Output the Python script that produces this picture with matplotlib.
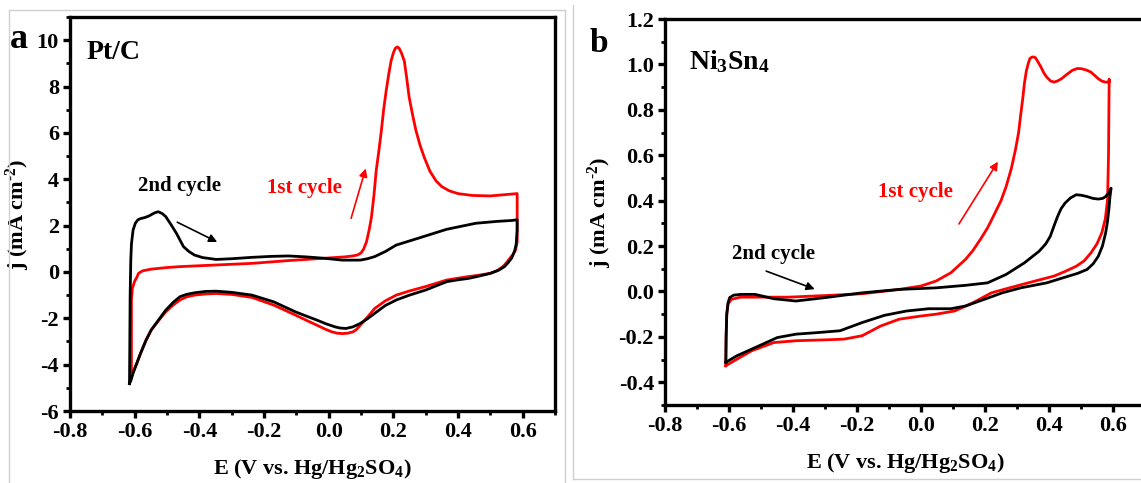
"CV curves, Pt/C vs Ni3Sn4"

import matplotlib
matplotlib.use("Agg")
import matplotlib.pyplot as plt
from matplotlib.lines import Line2D
from matplotlib.ticker import MultipleLocator

plt.rcParams['font.family'] = ['Liberation Serif', 'DejaVu Serif']
plt.rcParams['font.weight'] = 'bold'
plt.rcParams['axes.unicode_minus'] = False
plt.rcParams['mathtext.fontset'] = 'custom'
plt.rcParams['mathtext.rm'] = 'Liberation Serif:bold'
plt.rcParams['mathtext.it'] = 'Liberation Serif:bold'
plt.rcParams['mathtext.bf'] = 'Liberation Serif:bold'
plt.rcParams['mathtext.default'] = 'rm'

# ---- panel a : Pt/C (E in V, j in mA cm-2) ----
a_red_E = [-0.61, -0.61, -0.607, -0.6, -0.594, -0.588, -0.575, -0.549, -0.5, -0.46, -0.348,
           -0.237, -0.125, -0.014, 0.05, 0.074, 0.089, 0.1, 0.108, 0.117, 0.125, 0.132,
           0.14, 0.147, 0.155, 0.163, 0.17, 0.178, 0.186, 0.193, 0.2, 0.206, 0.212,
           0.218, 0.225, 0.234, 0.241, 0.249, 0.26, 0.27, 0.283, 0.296, 0.313, 0.332,
           0.35, 0.373, 0.4, 0.444, 0.5, 0.583, 0.583, 0.578, 0.57, 0.561, 0.55,
           0.539, 0.52, 0.5, 0.465, 0.432, 0.4, 0.365, 0.3, 0.25, 0.209, 0.175,
           0.142, 0.12, 0.098, 0.087, 0.076, 0.06, 0.042, 0.025, 0.009, -0.012, -0.036,
           -0.07, -0.103, -0.17, -0.237, -0.3, -0.348, -0.38, -0.415, -0.44, -0.46, -0.48,
           -0.504, -0.525, -0.549, -0.565, -0.582, -0.595, -0.605, -0.61]
a_red_j = [-4.5, -1.2, -0.7, -0.4, -0.25, -0.06, 0.05, 0.12, 0.19, 0.23, 0.3,
           0.37, 0.49, 0.59, 0.65, 0.69, 0.73, 0.82, 0.98, 1.3, 1.8, 2.33,
           3.3, 4.37, 5.2, 6.1, 7.0, 7.83, 8.55, 9.1, 9.45, 9.65, 9.71,
           9.65, 9.45, 9.1, 8.4, 7.53, 6.75, 6.1, 5.45, 4.93, 4.35, 3.93,
           3.68, 3.5, 3.38, 3.3, 3.28, 3.38, 1.3, 0.95, 0.75, 0.6, 0.4,
           0.23, 0.05, -0.06, -0.14, -0.2, -0.27, -0.35, -0.63, -0.82, -1.0, -1.25,
           -1.58, -1.95, -2.29, -2.47, -2.58, -2.64, -2.66, -2.64, -2.58, -2.46, -2.3,
           -2.08, -1.86, -1.43, -1.1, -0.97, -0.93, -0.95, -1.0, -1.08, -1.21, -1.42,
           -1.72, -2.08, -2.51, -2.95, -3.52, -4.0, -4.3, -4.5]

a_blk_E = [-0.616, -0.615, -0.614, -0.612, -0.61, -0.605, -0.598, -0.59, -0.582, -0.568, -0.555,
           -0.545, -0.538, -0.527, -0.515, -0.504, -0.488, -0.471, -0.46, -0.449, -0.432, -0.415,
           -0.39, -0.348, -0.3, -0.237, -0.18, -0.125, -0.07, -0.014, 0.042, 0.098, 0.12,
           0.142, 0.175, 0.209, 0.276, 0.365, 0.455, 0.52, 0.566, 0.583, 0.583, 0.58,
           0.575, 0.566, 0.555, 0.544, 0.525, 0.5, 0.465, 0.432, 0.4, 0.365, 0.3,
           0.25, 0.209, 0.175, 0.142, 0.12, 0.098, 0.075, 0.053, 0.035, 0.02, -0.008,
           -0.036, -0.07, -0.103, -0.17, -0.237, -0.3, -0.348, -0.38, -0.415, -0.44, -0.46,
           -0.48, -0.504, -0.525, -0.549, -0.565, -0.582, -0.595, -0.605, -0.612, -0.616]
a_blk_j = [-4.82, -3.0, -1.0, 0.5, 1.2, 1.8, 2.1, 2.25, 2.3, 2.35, 2.42,
           2.5, 2.55, 2.6, 2.52, 2.39, 2.05, 1.67, 1.38, 1.09, 0.88, 0.73,
           0.62, 0.54, 0.57, 0.63, 0.67, 0.69, 0.65, 0.59, 0.51, 0.51, 0.57,
           0.66, 0.88, 1.16, 1.45, 1.84, 2.1, 2.18, 2.22, 2.25, 1.8, 1.2,
           0.9, 0.6, 0.4, 0.23, 0.07, -0.06, -0.18, -0.28, -0.34, -0.42, -0.78,
           -1.0, -1.21, -1.45, -1.79, -2.02, -2.22, -2.37, -2.44, -2.42, -2.37, -2.24,
           -2.08, -1.9, -1.72, -1.29, -1.0, -0.88, -0.83, -0.84, -0.9, -0.97, -1.07,
           -1.3, -1.65, -2.05, -2.51, -2.95, -3.52, -4.0, -4.38, -4.7, -4.82]

# ---- panel b : Ni3Sn4 ----
b_red_E = [-0.61, -0.609, -0.607, -0.603, -0.593, -0.564, -0.506, -0.414, -0.299, -0.184, -0.068,
           0.0, 0.047, 0.093, 0.139, 0.162, 0.185, 0.208, 0.231, 0.25, 0.266, 0.282,
           0.295, 0.305, 0.312, 0.318, 0.323, 0.329, 0.335, 0.34, 0.346, 0.352, 0.358,
           0.366, 0.375, 0.384, 0.393, 0.405, 0.416, 0.428, 0.439, 0.455, 0.473, 0.488,
           0.502, 0.517, 0.531, 0.544, 0.554, 0.566, 0.577, 0.588, 0.588, 0.586, 0.583,
           0.576, 0.565, 0.55, 0.531, 0.51, 0.485, 0.45, 0.416, 0.335, 0.277, 0.22,
           0.162, 0.105, 0.047, 0.0, -0.068, -0.126, -0.184, -0.241, -0.299, -0.391, -0.46,
           -0.529, -0.575, -0.61]
b_red_j = [-0.327, -0.2, -0.1, -0.055, -0.035, -0.025, -0.025, -0.025, -0.018, -0.01, 0.009,
           0.024, 0.046, 0.082, 0.141, 0.18, 0.228, 0.28, 0.345, 0.4, 0.462, 0.54,
           0.623, 0.7, 0.784, 0.85, 0.915, 0.97, 1.003, 1.025, 1.032, 1.033, 1.029,
           1.01, 0.988, 0.962, 0.944, 0.927, 0.922, 0.928, 0.937, 0.955, 0.974, 0.982,
           0.981, 0.975, 0.966, 0.95, 0.937, 0.926, 0.922, 0.922, 0.935, 0.6, 0.404,
           0.32, 0.258, 0.21, 0.17, 0.135, 0.111, 0.088, 0.068, 0.038, 0.016, -0.006,
           -0.05, -0.086, -0.1, -0.108, -0.122, -0.152, -0.195, -0.21, -0.213, -0.217, -0.225,
           -0.261, -0.298, -0.327]

b_blk_E = [-0.61, -0.609, -0.607, -0.603, -0.598, -0.585, -0.564, -0.518, -0.46, -0.391, -0.299,
           -0.184, -0.068, 0.047, 0.139, 0.208, 0.266, 0.323, 0.369, 0.39, 0.404, 0.416,
           0.427, 0.438, 0.45, 0.467, 0.485, 0.5, 0.519, 0.537, 0.554, 0.568, 0.577,
           0.587, 0.594, 0.59, 0.588, 0.583, 0.577, 0.567, 0.554, 0.538, 0.519, 0.49,
           0.462, 0.393, 0.312, 0.254, 0.197, 0.139, 0.093, 0.024, -0.045, -0.114, -0.184,
           -0.253, -0.322, -0.391, -0.449, -0.518, -0.575, -0.61]
b_blk_j = [-0.312, -0.2, -0.1, -0.05, -0.027, -0.016, -0.013, -0.013, -0.032, -0.042, -0.027,
           -0.006, 0.009, 0.016, 0.027, 0.038, 0.075, 0.126, 0.177, 0.21, 0.243, 0.29,
           0.331, 0.365, 0.389, 0.412, 0.426, 0.424, 0.418, 0.41, 0.407, 0.41, 0.418,
           0.435, 0.455, 0.41, 0.374, 0.31, 0.258, 0.2, 0.155, 0.122, 0.097, 0.08,
           0.068, 0.038, 0.016, -0.006, -0.035, -0.064, -0.076, -0.076, -0.086, -0.105, -0.137,
           -0.173, -0.181, -0.188, -0.203, -0.247, -0.283, -0.312]

xlabel = r'E (V vs. Hg/Hg$_2$SO$_4$)'
ylabel = r'j (mA cm$^{\text{-2}}$)'

W, H = 1141, 483
fig = plt.figure(figsize=(W / 100, H / 100), dpi=100)

def box(l, r, t, b):
    return [l / W, 1 - b / H, (r - l) / W, (b - t) / H]

ax1 = fig.add_axes(box(70, 555, 17, 411))
ax2 = fig.add_axes(box(665, 1145, 19, 405))

def style(ax, ylim, ymaj):
    ax.set_xlim(-0.8, 0.7)
    ax.set_ylim(*ylim)
    ax.xaxis.set_major_locator(MultipleLocator(0.2))
    ax.xaxis.set_minor_locator(MultipleLocator(0.1))
    ax.yaxis.set_major_locator(MultipleLocator(ymaj))
    ax.yaxis.set_minor_locator(MultipleLocator(ymaj / 2))
    for s in ax.spines.values():
        s.set_linewidth(2.4)
    ax.tick_params(which='major', direction='out', length=5, width=2.4, labelsize=16, pad=3)
    ax.tick_params(which='minor', direction='out', length=3, width=2.0)
    ax.tick_params(top=False, right=False, which='both')
    for lab in ax.get_xticklabels() + ax.get_yticklabels():
        lab.set_fontweight('bold')
    ax.set_xlabel(xlabel, fontsize=16, fontweight='bold', labelpad=11)
    ax.set_ylabel(ylabel, fontsize=16, fontweight='bold', labelpad=3)

style(ax1, (-6, 11), 2)
style(ax2, (-0.5, 1.2), 0.2)
ax1.set_yticks([-6, -4, -2, 0, 2, 4, 6, 8, 10])
ax1.xaxis.set_major_formatter(plt.FormatStrFormatter('%.1f'))
ax2.xaxis.set_major_formatter(plt.FormatStrFormatter('%.1f'))
ax2.yaxis.set_major_formatter(plt.FormatStrFormatter('%.1f'))

lw = 2.0
ax1.plot(a_red_E, a_red_j, color='#ff0000', lw=lw, solid_joinstyle='round')
ax1.plot(a_blk_E, a_blk_j, color='black', lw=lw, solid_joinstyle='round')
ax2.plot(b_red_E, b_red_j, color='#ff0000', lw=lw, solid_joinstyle='round')
ax2.plot(b_blk_E, b_blk_j, color='black', lw=lw, solid_joinstyle='round')

# annotations
ax1.text(-0.748, 9.48, 'Pt/C', fontsize=20, fontweight='bold', va='center', ha='left')
ax1.text(-0.46, 3.71, '2nd cycle', fontsize=15, fontweight='bold', ha='center', va='center')
ax1.text(-0.075, 3.63, '1st cycle', fontsize=15, fontweight='bold', ha='center', va='center', color='#ff0000')
ax1.annotate('', xy=(-0.337, 1.24), xytext=(-0.476, 2.2),
             arrowprops=dict(arrowstyle='-|>', color='black', lw=1.2, mutation_scale=12))
ax1.annotate('', xy=(0.117, 4.58), xytext=(0.067, 2.2),
             arrowprops=dict(arrowstyle='-|>', color='#ff0000', lw=1.2, mutation_scale=12))

ax2.text(-0.725, 1.01, r'Ni$_3$Sn$_4$', fontsize=20, fontweight='bold', va='center', ha='left')
ax2.text(-0.0165, 0.44, '1st cycle', fontsize=15, fontweight='bold', ha='center', va='center', color='#ff0000')
ax2.text(-0.46, 0.163, '2nd cycle', fontsize=15, fontweight='bold', ha='center', va='center')
ax2.annotate('', xy=(0.245, 0.582), xytext=(0.114, 0.287),
             arrowprops=dict(arrowstyle='-|>', color='#ff0000', lw=1.2, mutation_scale=12))
ax2.annotate('', xy=(-0.324, 0.006), xytext=(-0.492, 0.094),
             arrowprops=dict(arrowstyle='-|>', color='black', lw=1.2, mutation_scale=12))

# panel letters
fig.text(19 / W, 1 - 40 / H, 'a', fontsize=26, fontweight='bold', ha='center', va='center')
fig.text(599 / W, 1 - 43 / H, 'b', fontsize=24, fontweight='bold', ha='center', va='center')

# light grey frames around the panels
gray = '#d0d0d0'
def fline(xs, ys):
    fig.add_artist(Line2D([x / W for x in xs], [1 - y / H for y in ys],
                          color=gray, lw=1.0, transform=fig.transFigure))
fline([9, 9], [483, 10])
fline([9, 565], [10, 10])
fline([565, 565], [10, 483])
fline([573, 573], [5, 479])
fline([573, 1141], [479, 479])

fig.savefig('out.png', dpi=100)
